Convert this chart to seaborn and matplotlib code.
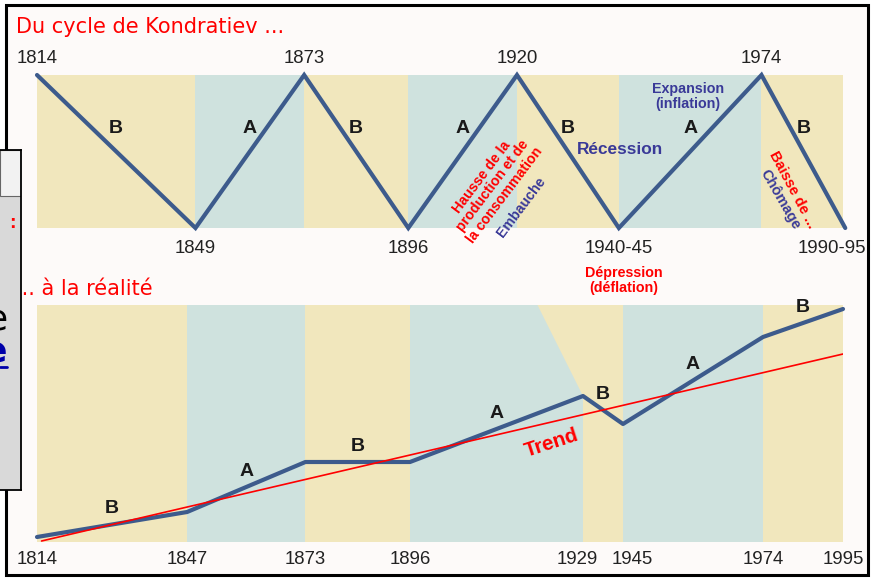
import numpy as np
import matplotlib
matplotlib.use('Agg')
import matplotlib.pyplot as plt
import matplotlib.transforms as mtransforms
from matplotlib.patches import Rectangle
import seaborn as sns

# Cycle théorique : années des retournements, 1 = sommet, 0 = creux
cycle_years = [1814, 1849, 1873, 1896, 1920, 1942.5, 1974, 1992.5]
cycle_level = [1, 0, 1, 0, 1, 0, 1, 0]
cycle_labels = ['1814', '1849', '1873', '1896', '1920', '1940-45', '1974', '1990-95']
cycle_phases = ['B', 'A', 'B', 'A', 'B', 'A', 'B']

real_years = [1814, 1847, 1873, 1896, 1929, 1945, 1974, 1995]
real_level = [5, 30, 80, 80, 146, 118, 205, 233]
real_phases = ['B', 'A', 'B', 'A', 'B', 'A', 'B']
trend_years = [1815, 1995]
trend_level = [1, 188]

YELLOW = '#f1e7bd'
BLUE = '#cfe2de'
LINE = '#3d5b8c'
RED = '#ff0000'
INK = '#3a3a98'
DARK = '#222222'
phase_color = {'A': BLUE, 'B': YELLOW}

sns.set_style('white')
plt.rcParams['font.family'] = ['Liberation Sans', 'DejaVu Sans']

W, H = 874, 585
fig = plt.figure(figsize=(W / 100, H / 100), dpi=100)


def fx(x):
    return x / W


def fy(y):
    return 1 - y / H


# cadre général
fig.add_artist(Rectangle((fx(6), fy(575)), 862 / W, 570 / H, transform=fig.transFigure,
                         facecolor='#fdfaf9', edgecolor='black', lw=2.2, zorder=-1))

# ---- Du cycle de Kondratiev ----
ax1 = fig.add_axes([fx(37), fy(228), 806 / W, 153 / H])
for i, ph in enumerate(cycle_phases):
    ax1.axvspan(cycle_years[i], cycle_years[i + 1], color=phase_color[ph], lw=0, zorder=0)
sns.lineplot(x=cycle_years, y=cycle_level, ax=ax1, color=LINE, lw=3,
             clip_on=False, zorder=3, solid_joinstyle='miter')
ax1.set_xlim(1814, 1992)
ax1.set_ylim(0, 1)
ax1.axis('off')

for i, ph in enumerate(cycle_phases):
    mid = (cycle_years[i] + cycle_years[i + 1]) / 2
    ax1.text(mid, 0.65, ph, ha='center', va='center', fontsize=14,
             fontweight='bold', color='#1a1a1a')

for k, (yr, lvl, lab) in enumerate(zip(cycle_years, cycle_level, cycle_labels)):
    dy = 12 if lvl == 1 else -25.5
    dx = -13 if k == len(cycle_years) - 1 else 0
    ax1.annotate(lab, (yr, lvl), xytext=(dx * 0.72, dy * 0.72), textcoords='offset points',
                 ha='center', va='baseline', fontsize=13.4, color=DARK,
                 annotation_clip=False)

# ---- ... à la réalité ----
warp_years = [1814, 1896, 1929, 1945, 1974, 1995]
warp_pos = [0, 373, 546, 586, 726, 806]

ax2 = fig.add_axes([fx(37), fy(542), 806 / W, 237 / H])
ax2.set_facecolor('none')
for i, ph in enumerate(real_phases):
    ax2.axvspan(real_years[i], real_years[i + 1], color=phase_color[ph], lw=0, zorder=0)
# le retournement théorique (1920) précède le retournement réel (1929)
ax2.fill([cycle_years[4], real_years[4], real_years[4]], [240, 240, real_level[4]],
         color=YELLOW, lw=0, zorder=0)
sns.lineplot(x=real_years, y=real_level, ax=ax2, color=LINE, lw=3,
             clip_on=False, zorder=3)
sns.lineplot(x=trend_years, y=trend_level, ax=ax2, color=RED, lw=1.2, zorder=4)

ax2.set_xscale('function', functions=(lambda x: np.interp(x, warp_years, warp_pos),
                                      lambda p: np.interp(p, warp_pos, warp_years)))
ax2.set_xlim(1814, 1995)
ax2.set_ylim(0, 237)
ax2.set_xlabel('')
ax2.set_ylabel('')
ax2.set_yticks([])
ax2.set_xticks(real_years, labels=[str(y) for y in real_years])
ax2.tick_params(axis='x', length=0, pad=6.3, labelsize=13.4, labelcolor=DARK)
sns.despine(ax=ax2, left=True, bottom=True)
shift = {'1929': -6, '1945': 9}
for lab in ax2.get_xticklabels():
    if lab.get_text() in shift:
        lab.set_transform(lab.get_transform() + mtransforms.ScaledTranslation(
            shift[lab.get_text()] / 100, 0, fig.dpi_scale_trans))

for i, ph in enumerate(real_phases):
    mid = (real_years[i] + real_years[i + 1]) / 2
    lvl = np.interp(mid, real_years, real_level)
    ax2.annotate(ph, (mid, lvl), xytext=(0, 11.5), textcoords='offset points',
                 ha='center', va='center', fontsize=14, fontweight='bold', color='#1a1a1a')

# ---- textes ----
fig.text(fx(16), fy(33), 'Du cycle de Kondratiev ...', color=RED, fontsize=15,
         family='DejaVu Sans', va='baseline')
fig.text(fx(15), fy(295), '... à la réalité', color=RED, fontsize=15,
         family='DejaVu Sans', va='baseline')

fig.text(fx(620), fy(154), 'Récession', color=INK, fontsize=12.4, fontweight='bold',
         ha='center', va='baseline')
fig.text(fx(688), fy(82), 'Expansion\n(inflation)', color=INK, fontsize=10.3,
         fontweight='bold', ha='center', va='top', linespacing=1.1)
fig.text(fx(624), fy(266), 'Dépression\n(déflation)', color=RED, fontsize=10.3,
         fontweight='bold', ha='center', va='top', linespacing=1.1)
fig.text(fx(493), fy(186), 'Hausse de la\nproduction et de\nla consommation', color=RED,
         fontsize=10.2, fontweight='bold', ha='center', va='center', rotation=53,
         rotation_mode='anchor', linespacing=1.05)
fig.text(fx(521), fy(207), 'Embauche', color=INK, fontsize=10.2, fontweight='bold',
         ha='center', va='center', rotation=53, rotation_mode='anchor')
fig.text(fx(793), fy(190), 'Baisse de ...', color=RED, fontsize=10.5, fontweight='bold',
         ha='center', va='center', rotation=-62, rotation_mode='anchor')
fig.text(fx(780), fy(199), 'Chômage', color=INK, fontsize=10.5, fontweight='bold',
         ha='center', va='center', rotation=-60, rotation_mode='anchor')
fig.text(fx(552), fy(443), 'Trend', color=RED, fontsize=14.8, fontweight='bold',
         ha='center', va='center', rotation=18, rotation_mode='anchor')

# fenêtre superposée à gauche
axo = fig.add_axes([0, fy(490), 20.7 / W, 340 / H])
axo.set_zorder(5)
axo.set_facecolor('#d9d9d9')
axo.set_xlim(0, 20.7)
axo.set_ylim(490, 150)
axo.set_xticks([])
axo.set_yticks([])
axo.spines['left'].set_visible(False)
for s in ['top', 'right', 'bottom']:
    axo.spines[s].set_linewidth(1.3)
    axo.spines[s].set_color('black')
axo.add_patch(Rectangle((0, 150), 20.7, 46, facecolor='#f2f2f2', edgecolor='#666666', lw=0.8))
axo.text(12, 224, ':', color=RED, fontsize=14, fontweight='bold', ha='center', va='center')
axo.text(8.5, 320, 'e', color='black', fontsize=26, family='DejaVu Sans',
         ha='right', va='center', clip_on=True)
axo.text(7.5, 352, 'e', color='#0000aa', fontsize=26, family='DejaVu Sans',
         fontweight='bold', ha='right', va='center', clip_on=True)
axo.plot([0, 7], [367, 367], color='#0000aa', lw=2)

fig.savefig('out.png', dpi=100)
